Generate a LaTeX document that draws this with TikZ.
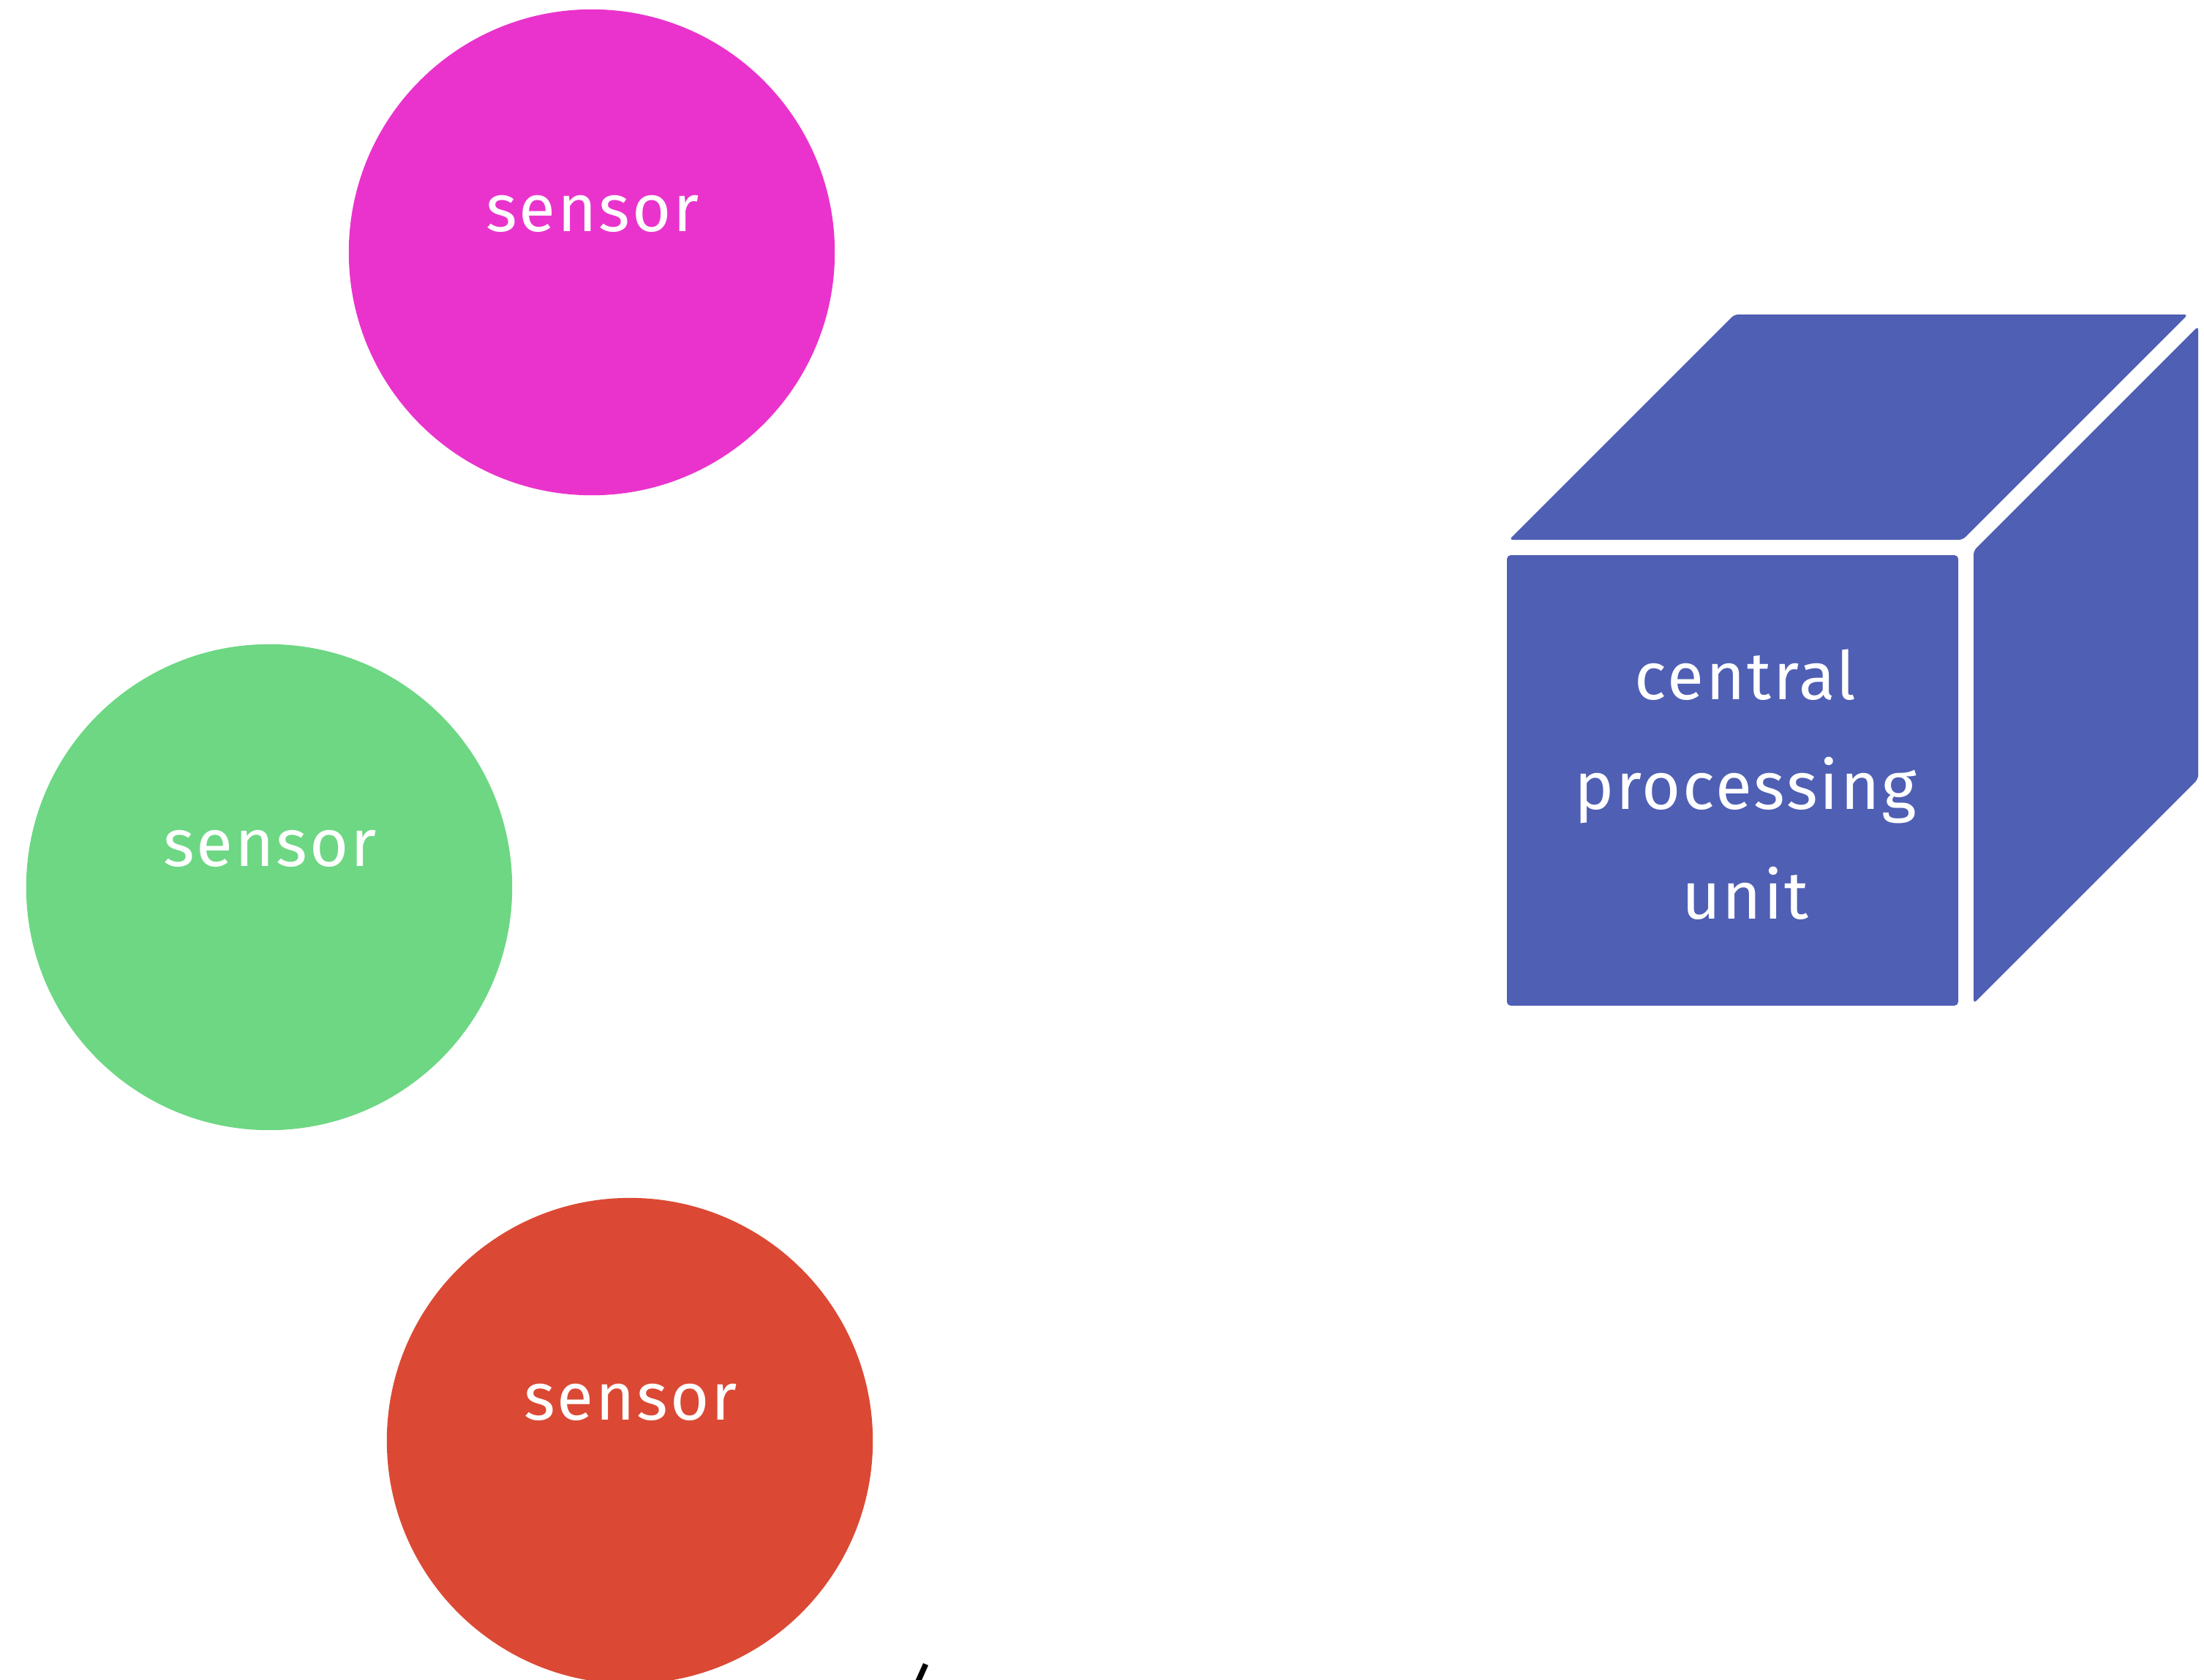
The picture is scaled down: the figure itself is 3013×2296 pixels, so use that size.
\documentclass[tikz,border=0pt]{standalone}
\usepackage{fontspec}
\setmainfont{Fira Sans}[LetterSpace=3]
\definecolor{sensmagenta}{HTML}{EA33CC}
\definecolor{sensgreen}{HTML}{6DD783}
\definecolor{sensred}{HTML}{DB4934}
\definecolor{cubeblue}{HTML}{4F5FB4}
\begin{document}
\begin{tikzpicture}[x=0.01cm, y=-0.01cm,
  disc/.style={circle, minimum size=6.64cm, inner sep=0pt},
  lbl/.style={text=white, inner sep=0pt, font=\fontsize{26}{42.7}\selectfont},
  face/.style={fill=cubeblue, rounded corners=1.5pt}]
\path[use as bounding box] (0,0) rectangle (3013,2296);
\clip (0,0) rectangle (3013,2296);

% sensors
\node[disc, fill=sensmagenta] (s1) at (809,345) {};
\node[lbl, anchor=base] (t1) at (810,316) {sensor};
\node[disc, fill=sensgreen] (s2) at (368,1213) {};
\node[lbl, anchor=base] (t2) at (369,1184) {sensor};
\node[disc, fill=sensred] (s3) at (861,1970) {};
\node[lbl, anchor=base] (t3) at (862,1941) {sensor};

% processing unit drawn as a cube
\fill[face] (2060,759) -- (2677,759) -- (2677,1375) -- (2060,1375) -- cycle;
\fill[face] (2063,738) -- (2683,738) -- (2991,430) -- (2371,430) -- cycle;
\fill[face] (2698,753) -- (3005,446) -- (3005,1065) -- (2698,1372) -- cycle;
\node[lbl, align=center] (cpu) at (2386,1073) {central\\processing\\unit};

% page number
\node[anchor=north, inner sep=0pt, font=\fontsize{26}{30}\selectfont] (pg) at (1265,2274) {4};
\end{tikzpicture}
\end{document}
